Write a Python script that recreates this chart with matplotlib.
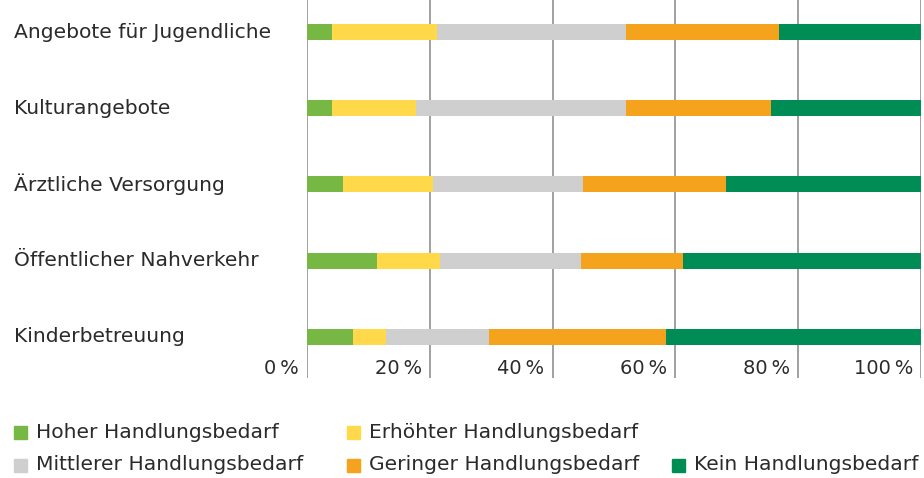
import matplotlib
matplotlib.use("Agg")
import matplotlib.pyplot as plt
from matplotlib.patches import Rectangle
from matplotlib.transforms import blended_transform_factory

categories = ["Angebote für Jugendliche", "Kulturangebote", "Ärztliche Versorgung",
              "Öffentlicher Nahverkehr", "Kinderbetreuung"]
series = ["Hoher Handlungsbedarf", "Erhöhter Handlungsbedarf", "Mittlerer Handlungsbedarf",
          "Geringer Handlungsbedarf", "Kein Handlungsbedarf"]
hoher = [4.1, 4.1, 5.9, 11.4, 7.5]
erhoehter = [17.0, 13.7, 14.6, 10.3, 5.3]
mittlerer = [30.9, 34.2, 24.4, 23.0, 16.9]
geringer = [24.8, 23.5, 23.4, 16.5, 28.7]
kein = [23.2, 24.5, 31.7, 38.8, 41.6]
colors = ["#76b843", "#ffd94a", "#cfcfcf", "#f5a31c", "#008c55"]
ticks = [0, 20, 40, 60, 80, 100]

plt.rcParams['font.family'] = ['DejaVu Sans']
txt = "#2b2b2b"

fig = plt.figure(figsize=(9.24, 4.78), dpi=100)
ax = fig.add_axes([307 / 924, 1 - 378 / 478, 614 / 924, 378 / 478])

# gridlines
for t in ticks:
    ax.axvline(t, color="#9a9a9a", lw=1.3, zorder=1)

# stacked bars
y = list(range(len(categories)))
left = [0] * len(categories)
for vals, col in zip([hoher, erhoehter, mittlerer, geringer, kein], colors):
    ax.barh(y, vals, left=left, height=0.21, color=col, zorder=2)
    left = [a + b for a, b in zip(left, vals)]

ax.set_xlim(0, 100)
ax.set_ylim(4.54, -0.42)
ax.axis("off")

# category labels
tr = blended_transform_factory(fig.transFigure, ax.transData)
for i, c in enumerate(categories):
    fig.text(14 / 924, i, c, transform=tr, ha="left", va="center", fontsize=14.6, color=txt)

# tick labels
for t in ticks:
    ax.text(t - 1.3, 4.41, f"{t}\u2009%", ha="right", va="center", fontsize=14, color=txt)

# legend
pos = [(14, 432), (347, 432), (14, 465), (347, 465), (672, 465)]
for (px, py), lab, col in zip(pos, series, colors):
    fig.patches.append(Rectangle((px / 924, 1 - (py + 6.5) / 478), 13 / 924, 13 / 478,
                                 transform=fig.transFigure, color=col))
    fig.text((px + 22) / 924, 1 - py / 478, lab, ha="left", va="center", fontsize=14.6, color=txt)

fig.savefig("out.png", dpi=100)
